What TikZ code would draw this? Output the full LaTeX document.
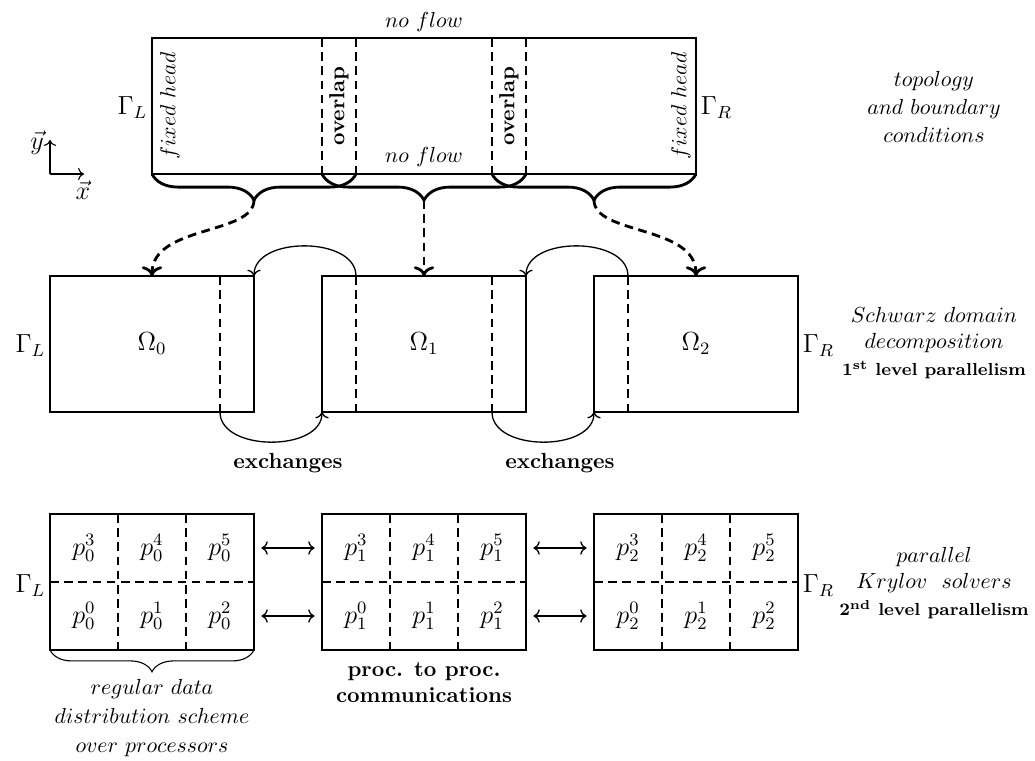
\documentclass[tikz,border=0pt]{standalone}
\usetikzlibrary{decorations.pathreplacing,arrows.meta}
\begin{document}
\begin{tikzpicture}[x=0.4587pt,y=-0.4587pt,
  frame/.style={draw, line width=0.5pt},
  sep/.style={line width=0.5pt, dash pattern=on 4pt off 2.5pt},
  bigbrace/.style={line width=1.3pt, decorate, decoration={brace, mirror, amplitude=12pt}},
  smallbrace/.style={line width=0.5pt, decorate, decoration={brace, mirror, amplitude=10pt}},
  maparrow/.style={line width=1.3pt, dash pattern=on 4pt off 2.5pt, -{Computer Modern Rightarrow[line width=1.3pt]}},
  exch/.style={line width=0.6pt, -{Computer Modern Rightarrow}},
  comm/.style={line width=0.6pt, {Computer Modern Rightarrow}-{Computer Modern Rightarrow}, shorten <=4.8pt, shorten >=4.8pt},
  cell/.style={minimum width=28pt, minimum height=28pt, inner sep=0pt, font=\large},
  lbl/.style={align=center, inner sep=0pt},
  big/.style={font=\large}
]
\useasboundingbox (0,0) rectangle (1035,760);

% ---------- top: topology ----------
\draw[frame] (152,38) rectangle (696,174);
\draw[sep] (322,38) -- (322,174);
\draw[sep] (356,38) -- (356,174);
\draw[sep] (492,38) -- (492,174);
\draw[sep] (526,38) -- (526,174);
\node (nf1) at (424,22) {$no\ flow$};
\node (nf2) at (424,157) {$no\ flow$};
\node[rotate=90] (fh1) at (170,106) {$fixed\ head$};
\node[rotate=90] (fh2) at (681,106) {$fixed\ head$};
\node[rotate=90,font=\bfseries] (ov1) at (339,106) {overlap};
\node[rotate=90,font=\bfseries] (ov2) at (509,106) {overlap};
\node[big,anchor=east,inner sep=2pt] (gl1) at (152,108) {$\Gamma_L$};
\node[big,anchor=west,inner sep=2pt] (gr1) at (696,108) {$\Gamma_R$};

% axes
\coordinate (ax0) at (50,174);
\coordinate (axx) at (84,174);
\coordinate (axy) at (50,140);
\draw[line width=0.5pt,-{Computer Modern Rightarrow}] (ax0) -- (axx);
\draw[line width=0.5pt,-{Computer Modern Rightarrow}] (ax0) -- (axy);
\node[big] (vx) at (83,190) {$\vec{x}$};
\node[big] (vy) at (37,143) {$\vec{y}$};

% braces
\draw[bigbrace] (152,174) -- (356,174);
\draw[bigbrace] (322,174) -- (526,174);
\draw[bigbrace] (492,174) -- (696,174);
\coordinate (b0) at (254,200);
\coordinate (b1) at (424,200);
\coordinate (b2) at (594,200);

% ---------- middle: Schwarz ----------
\draw[frame] (50,276) rectangle (254,412);
\draw[frame] (322,276) rectangle (526,412);
\draw[frame] (594,276) rectangle (798,412);
\draw[sep] (220,276) -- (220,412);
\draw[sep] (356,276) -- (356,412);
\draw[sep] (492,276) -- (492,412);
\draw[sep] (628,276) -- (628,412);
\node[big] (om0) at (152,344) {$\Omega_0$};
\node[big] (om1) at (424,344) {$\Omega_1$};
\node[big] (om2) at (696,344) {$\Omega_2$};
\node[big,anchor=east,inner sep=2pt] (gl2) at (50,346) {$\Gamma_L$};
\node[big,anchor=west,inner sep=2pt] (gr2) at (798,346) {$\Gamma_R$};
\coordinate (t0) at (152,276);
\coordinate (t1) at (424,276);
\coordinate (t2) at (696,276);

\draw[maparrow] (b0) .. controls (254,235) and (152,225) .. (t0);
\draw[maparrow] (b1) -- (t1);
\draw[maparrow] (b2) .. controls (594,235) and (696,225) .. (t2);

% exchanges
\coordinate (e0t) at (254,276);
\coordinate (e1ts) at (356,276);
\coordinate (e0b) at (220,412);
\coordinate (e1bl) at (322,412);
\coordinate (e1tr) at (526,276);
\coordinate (e2ts) at (628,276);
\coordinate (e1br) at (492,412);
\coordinate (e2b) at (594,412);
\draw[exch] (e1ts) .. controls (356,236) and (254,236) .. (e0t);
\draw[exch] (e0b) .. controls (220,452) and (322,452) .. (e1bl);
\draw[exch] (e2ts) .. controls (628,236) and (526,236) .. (e1tr);
\draw[exch] (e1br) .. controls (492,452) and (594,452) .. (e2b);
\node[font=\bfseries] (ex1) at (288,463) {exchanges};
\node[font=\bfseries] (ex2) at (560,463) {exchanges};

% ---------- bottom: Krylov ----------
\foreach \k/\x in {0/50,1/322,2/594}{
  \draw[frame] (\x,514) rectangle (\x+204,650);
  \draw[sep] (\x+68,514) -- (\x+68,650);
  \draw[sep] (\x+136,514) -- (\x+136,650);
  \draw[sep] (\x,582) -- (\x+204,582);
  \foreach \i in {0,1,2}{
    \node[cell] (c\k\i) at (\x+34+68*\i,616) {$p_{\k}^{\i}$};
    \pgfmathtruncatemacro{\j}{\i+3}
    \node[cell] (c\k\j) at (\x+34+68*\i,548) {$p_{\k}^{\j}$};
  }
}
\draw[comm] (c05.east) -- (c13.west);
\draw[comm] (c02.east) -- (c10.west);
\draw[comm] (c15.east) -- (c23.west);
\draw[comm] (c12.east) -- (c20.west);
\node[big,anchor=east,inner sep=2pt] (gl3) at (50,586) {$\Gamma_L$};
\node[big,anchor=west,inner sep=2pt] (gr3) at (798,586) {$\Gamma_R$};

\draw[smallbrace] (50,650) -- (254,650);
\node[lbl] (reg) at (152,718) {$regular\ data$\\[1.3pt]$distribution\ scheme$\\[1.3pt]$over\ processors$};
\node[lbl,font=\bfseries] (ptp) at (424,683) {proc. to proc.\\communications};

% ---------- right labels ----------
\node[lbl] (lab1) at (934,107) {$topology$\\[0.8pt]$and\ boundary$\\[0.8pt]$conditions$};
\node[lbl] (lab2) at (934,343) {$Schwarz\ domain$\\$decomposition$\\[0.5pt]{\footnotesize\bfseries 1\textsuperscript{st} level parallelism}};
\node[lbl] (lab3) at (934,583) {$parallel$\\$Krylov\ \ solvers$\\[0.5pt]{\footnotesize\bfseries 2\textsuperscript{nd} level parallelism}};
\end{tikzpicture}
\end{document}
